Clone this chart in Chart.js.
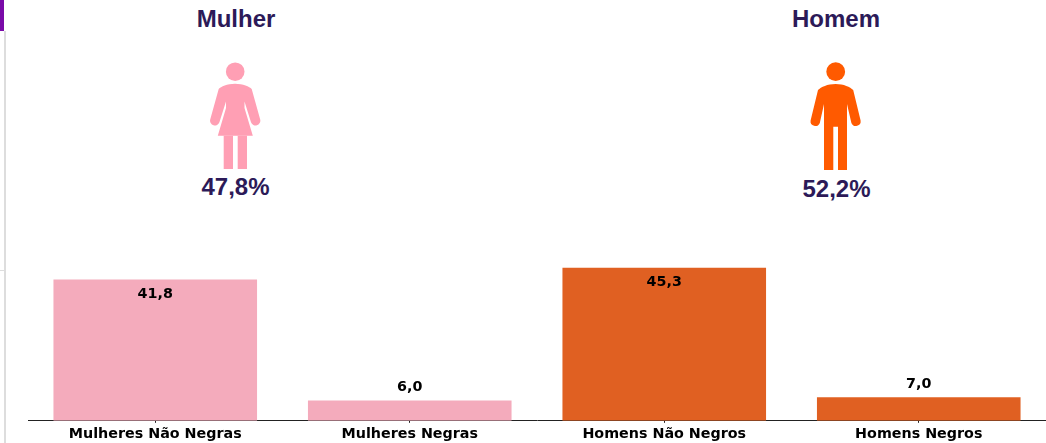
<!DOCTYPE html>
<html lang="pt">
<head>
    <meta charset="utf-8">
    <title>Mulher / Homem</title>
    <script src="https://cdn.jsdelivr.net/npm/chart.js"></script>
    <style>
        html, body { margin: 0; padding: 0; background: #fff; }
        body { width: 1046px; height: 443px; position: relative; overflow: hidden; }

        /* bits of the surrounding page on the left edge */
        .side-tab { position: absolute; left: 0; top: 0; width: 4px; height: 31px; background: #7a0aa8; }
        .side-line { position: absolute; left: 4px; top: 31px; width: 2px; height: 412px; background: #ddd; }
        .side-tick { position: absolute; left: 0; top: 270px; width: 5px; height: 1px; background: #ddd; }

        .head {
            position: absolute;
            width: 200px;
            text-align: center;
            font: bold 24px "Liberation Sans", Arial, sans-serif;
            color: #2c1a58;
            line-height: 28px;
        }
        #icons { position: absolute; left: 0; top: 0; }
        .chart-container { position: absolute; left: 0; top: 218px; width: 1046px; height: 228px; }
        canvas { display: block; }
    </style>
</head>
<body>
    <div class="side-tab"></div>
    <div class="side-line"></div>
    <div class="side-tick"></div>

    <svg id="icons" width="1046" height="220">
        <!-- woman -->
        <g fill="#ff9fb4">
            <circle cx="235.2" cy="71.7" r="9.3"/>
            <path d="M235 83.7C227 83.7 221 86.5 218.7 89L210.2 119.5A4.8 4.8 0 0 0 219.4 122.2L226 101.5L226 108L217.8 135.7L252.8 135.7L244.5 108L244.5 101.5L251 122.2A4.8 4.8 0 0 0 260.2 119.5L251.7 89C249.5 86.5 243 83.7 235 83.7Z"/>
            <rect x="223.7" y="135.7" width="9.3" height="33.3"/>
            <rect x="237.7" y="135.7" width="9.3" height="33.3"/>
        </g>
        <!-- man -->
        <g fill="#ff5a00">
            <circle cx="835.7" cy="71.7" r="9.4"/>
            <path d="M835.6 84C827.5 84 821 87 818 90L810.6 120.5A4.8 4.8 0 0 0 819.8 123L824 104L824 170L833.3 170L833.3 126.8L838 126.8L838 170L847 170L847 104L851.4 123A4.8 4.8 0 0 0 860.6 120.5L853.2 90C850.2 87 843.7 84 835.6 84Z"/>
        </g>
    </svg>

    <div class="head" id="titleF" style="left:136px;top:5px"></div>
    <div class="head" id="titleM" style="left:736px;top:5px"></div>
    <div class="head" id="pctF" style="left:135.5px;top:173px"></div>
    <div class="head" id="pctM" style="left:736.5px;top:175px"></div>

    <div class="chart-container">
        <canvas id="myChart" width="1046" height="228"></canvas>
    </div>

    <script>
        const groupTitles = ["Mulher", "Homem"];
        const groupShares = ["47,8%", "52,2%"];
        const categories = ["Mulheres Não Negras", "Mulheres Negras", "Homens Não Negros", "Homens Negros"];
        const values = [41.8, 6.0, 45.3, 7.0];
        const barColors = ["#f4abbc", "#f4abbc", "#e06022", "#e06022"];

        document.getElementById("titleF").textContent = groupTitles[0];
        document.getElementById("titleM").textContent = groupTitles[1];
        document.getElementById("pctF").textContent = groupShares[0];
        document.getElementById("pctM").textContent = groupShares[1];

        // value labels: inside the bar when it is tall, above it when it is short
        const valueLabels = {
            id: "valueLabels",
            afterDatasetsDraw(chart) {
                const ctx = chart.ctx;
                const bars = chart.getDatasetMeta(0).data;
                ctx.save();
                ctx.font = "bold 14.3px 'DejaVu Sans'";
                ctx.fillStyle = "#000";
                ctx.textAlign = "center";
                ctx.textBaseline = "middle";
                bars.forEach((bar, i) => {
                    const y = values[i] > 20 ? bar.y + 15 : bar.y - 13;
                    ctx.fillText(values[i].toFixed(1).replace(".", ","), bar.x, y);
                });
                ctx.restore();
            }
        };

        new Chart(document.getElementById("myChart").getContext("2d"), {
            type: "bar",
            data: {
                labels: categories,
                datasets: [{
                    data: values,
                    backgroundColor: barColors,
                    categoryPercentage: 0.8,
                    barPercentage: 1
                }]
            },
            options: {
                responsive: false,
                animation: false,
                devicePixelRatio: 1,
                layout: { padding: { left: 28, right: 0, top: 0, bottom: 0 } },
                plugins: { legend: { display: false }, tooltip: { enabled: false } },
                scales: {
                    y: { display: false, min: 0, max: 60 },
                    x: {
                        // offset false puts the little ticks under the bar centres
                        grid: { offset: false, drawOnChartArea: false, drawTicks: true, tickLength: 2, color: "#222" },
                        border: { display: true, color: "#222", width: 1 },
                        ticks: {
                            color: "#000",
                            padding: 3,
                            maxRotation: 0,
                            autoSkip: false,
                            font: { family: "'DejaVu Sans'", size: 14.3, weight: "bold" }
                        }
                    }
                }
            },
            plugins: [valueLabels]
        });
    </script>
</body>
</html>
